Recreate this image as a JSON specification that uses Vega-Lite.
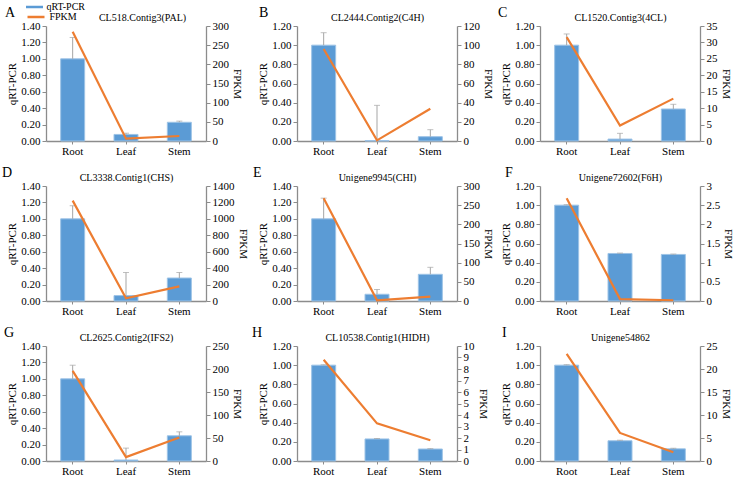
{
  "$schema": "https://vega.github.io/schema/vega-lite/v6.json",
  "padding": {"left": 2, "top": 2, "right": 2, "bottom": 2},
  "data": {"values": [
    {"panel": "A", "tissue": "Root", "qpcr": 1.0, "hi": 1.26, "fpkm": 285},
    {"panel": "A", "tissue": "Leaf", "qpcr": 0.08, "hi": 0.095, "fpkm": 6},
    {"panel": "A", "tissue": "Stem", "qpcr": 0.228, "hi": 0.242, "fpkm": 13},
    {"panel": "B", "tissue": "Root", "qpcr": 1.0, "hi": 1.13, "fpkm": 96},
    {"panel": "B", "tissue": "Leaf", "qpcr": 0.004, "hi": 0.372, "fpkm": 0.7},
    {"panel": "B", "tissue": "Stem", "qpcr": 0.045, "hi": 0.118, "fpkm": 33.7},
    {"panel": "C", "tissue": "Root", "qpcr": 1.0, "hi": 1.117, "fpkm": 31.6},
    {"panel": "C", "tissue": "Leaf", "qpcr": 0.02, "hi": 0.08, "fpkm": 4.7},
    {"panel": "C", "tissue": "Stem", "qpcr": 0.334, "hi": 0.383, "fpkm": 12.9},
    {"panel": "D", "tissue": "Root", "qpcr": 1.0, "hi": 1.16, "fpkm": 1222},
    {"panel": "D", "tissue": "Leaf", "qpcr": 0.066, "hi": 0.347, "fpkm": 33},
    {"panel": "D", "tissue": "Stem", "qpcr": 0.28, "hi": 0.347, "fpkm": 178},
    {"panel": "E", "tissue": "Root", "qpcr": 1.0, "hi": 1.252, "fpkm": 268},
    {"panel": "E", "tissue": "Leaf", "qpcr": 0.082, "hi": 0.14, "fpkm": 2},
    {"panel": "E", "tissue": "Stem", "qpcr": 0.325, "hi": 0.41, "fpkm": 11.5},
    {"panel": "F", "tissue": "Root", "qpcr": 1.0, "hi": 1.005, "fpkm": 2.68},
    {"panel": "F", "tissue": "Leaf", "qpcr": 0.496, "hi": 0.5, "fpkm": 0.05},
    {"panel": "F", "tissue": "Stem", "qpcr": 0.486, "hi": 0.49, "fpkm": 0.02},
    {"panel": "G", "tissue": "Root", "qpcr": 1.0, "hi": 1.166, "fpkm": 196},
    {"panel": "G", "tissue": "Leaf", "qpcr": 0.012, "hi": 0.157, "fpkm": 8.6},
    {"panel": "G", "tissue": "Stem", "qpcr": 0.307, "hi": 0.355, "fpkm": 51},
    {"panel": "H", "tissue": "Root", "qpcr": 1.0, "hi": 1.004, "fpkm": 8.8},
    {"panel": "H", "tissue": "Leaf", "qpcr": 0.23, "hi": 0.235, "fpkm": 3.27},
    {"panel": "H", "tissue": "Stem", "qpcr": 0.125, "hi": 0.129, "fpkm": 1.81},
    {"panel": "I", "tissue": "Root", "qpcr": 1.0, "hi": 1.005, "fpkm": 23.3},
    {"panel": "I", "tissue": "Leaf", "qpcr": 0.211, "hi": 0.217, "fpkm": 6.1},
    {"panel": "I", "tissue": "Stem", "qpcr": 0.127, "hi": 0.133, "fpkm": 1.9}
  ]},
  "columns": 3,
  "spacing": {"row": 10, "column": 4},
  "concat": [
    {
      "title": {"text": "A", "dx": -41},
      "transform": [{"filter": "datum.panel == 'A'"}],
      "width": 160, "height": 115,
      "layer": [
        {
          "encoding": {"x": {"field": "tissue", "type": "nominal", "sort": ["Root", "Leaf", "Stem"], "scale": {"paddingInner": 0.55, "paddingOuter": 0.275}, "axis": {"title": null}}},
          "layer": [
            {"mark": {"type": "bar", "stroke": "#9DC3E6", "strokeWidth": 1},
             "encoding": {
               "y": {"field": "qpcr", "type": "quantitative", "title": "qRT-PCR", "scale": {"domain": [0, 1.4]}, "axis": {"values": [0, 0.2, 0.4, 0.6, 0.8, 1, 1.2, 1.4], "format": ".2f"}},
               "fill": {"datum": "qRT-PCR", "type": "nominal", "scale": {"range": ["#5B9BD5"]}, "legend": {"orient": "none", "legendX": -16.5, "legendY": -24, "title": null, "symbolType": "M-1.7,-0.25H1.7V0.25H-1.7Z", "symbolSize": 100, "symbolStrokeWidth": 0, "labelFontSize": 10, "labelFont": "Liberation Serif", "padding": 0, "labelOffset": 7}}
             }},
            {"mark": {"type": "rule", "color": "#A5A5A5"}, "encoding": {"y": {"field": "qpcr", "type": "quantitative", "axis": null}, "y2": {"field": "hi"}}},
            {"mark": {"type": "tick", "color": "#A5A5A5", "thickness": 1, "size": 6}, "encoding": {"y": {"field": "hi", "type": "quantitative", "axis": null}}}
          ],
          "resolve": {"axis": {"y": "independent"}}
        },
        {
          "mark": {"type": "line", "strokeWidth": 2.2},
          "encoding": {
            "x": {"field": "tissue", "type": "nominal", "sort": ["Root", "Leaf", "Stem"], "axis": {"orient": "top", "title": "CL518.Contig3(PAL)", "labels": false, "ticks": false, "domain": false, "titleX": 96}},
            "y": {"field": "fpkm", "type": "quantitative", "title": "FPKM", "scale": {"domain": [0, 300]}, "axis": {"orient": "right", "values": [0, 50, 100, 150, 200, 250, 300]}},
            "stroke": {"datum": "FPKM", "type": "nominal", "scale": {"range": ["#ED7D31"]}, "legend": {"orient": "none", "legendX": -16.5, "legendY": -15.5, "title": null, "symbolType": "M-1.7,0H1.7", "symbolSize": 100, "symbolStrokeWidth": 2.5, "labelFontSize": 10, "labelFont": "Liberation Serif", "padding": 0, "labelOffset": 7}}
          }
        }
      ],
      "resolve": {"scale": {"y": "independent"}, "axis": {"x": "independent"}}
    },
    {
      "title": {"text": "B", "dx": -38},
      "transform": [{"filter": "datum.panel == 'B'"}],
      "width": 160, "height": 115,
      "layer": [
        {
          "encoding": {"x": {"field": "tissue", "type": "nominal", "sort": ["Root", "Leaf", "Stem"], "scale": {"paddingInner": 0.55, "paddingOuter": 0.275}, "axis": {"title": null}}},
          "layer": [
            {"mark": {"type": "bar", "fill": "#5B9BD5", "stroke": "#9DC3E6", "strokeWidth": 1},
             "encoding": {"y": {"field": "qpcr", "type": "quantitative", "title": "qRT-PCR", "scale": {"domain": [0, 1.2]}, "axis": {"values": [0, 0.2, 0.4, 0.6, 0.8, 1, 1.2], "format": ".2f"}}}},
            {"mark": {"type": "rule", "color": "#A5A5A5"}, "encoding": {"y": {"field": "qpcr", "type": "quantitative", "axis": null}, "y2": {"field": "hi"}}},
            {"mark": {"type": "tick", "color": "#A5A5A5", "thickness": 1, "size": 6}, "encoding": {"y": {"field": "hi", "type": "quantitative", "axis": null}}}
          ],
          "resolve": {"axis": {"y": "independent"}}
        },
        {
          "mark": {"type": "line", "color": "#ED7D31", "strokeWidth": 2.2},
          "encoding": {
            "x": {"field": "tissue", "type": "nominal", "sort": ["Root", "Leaf", "Stem"], "axis": {"orient": "top", "title": "CL2444.Contig2(C4H)", "labels": false, "ticks": false, "domain": false}},
            "y": {"field": "fpkm", "type": "quantitative", "title": "FPKM", "scale": {"domain": [0, 120]}, "axis": {"orient": "right", "values": [0, 20, 40, 60, 80, 100, 120]}}
          }
        }
      ],
      "resolve": {"scale": {"y": "independent"}, "axis": {"x": "independent"}}
    },
    {
      "title": {"text": "C", "dx": -42},
      "transform": [{"filter": "datum.panel == 'C'"}],
      "width": 160, "height": 115,
      "layer": [
        {
          "encoding": {"x": {"field": "tissue", "type": "nominal", "sort": ["Root", "Leaf", "Stem"], "scale": {"paddingInner": 0.55, "paddingOuter": 0.275}, "axis": {"title": null}}},
          "layer": [
            {"mark": {"type": "bar", "fill": "#5B9BD5", "stroke": "#9DC3E6", "strokeWidth": 1},
             "encoding": {"y": {"field": "qpcr", "type": "quantitative", "title": "qRT-PCR", "scale": {"domain": [0, 1.2]}, "axis": {"values": [0, 0.2, 0.4, 0.6, 0.8, 1, 1.2], "format": ".2f"}}}},
            {"mark": {"type": "rule", "color": "#A5A5A5"}, "encoding": {"y": {"field": "qpcr", "type": "quantitative", "axis": null}, "y2": {"field": "hi"}}},
            {"mark": {"type": "tick", "color": "#A5A5A5", "thickness": 1, "size": 6}, "encoding": {"y": {"field": "hi", "type": "quantitative", "axis": null}}}
          ],
          "resolve": {"axis": {"y": "independent"}}
        },
        {
          "mark": {"type": "line", "color": "#ED7D31", "strokeWidth": 2.2},
          "encoding": {
            "x": {"field": "tissue", "type": "nominal", "sort": ["Root", "Leaf", "Stem"], "axis": {"orient": "top", "title": "CL1520.Contig3(4CL)", "labels": false, "ticks": false, "domain": false}},
            "y": {"field": "fpkm", "type": "quantitative", "title": "FPKM", "scale": {"domain": [0, 35]}, "axis": {"orient": "right", "values": [0, 5, 10, 15, 20, 25, 30, 35]}}
          }
        }
      ],
      "resolve": {"scale": {"y": "independent"}, "axis": {"x": "independent"}}
    },
    {
      "title": {"text": "D", "dx": -44},
      "transform": [{"filter": "datum.panel == 'D'"}],
      "width": 160, "height": 115,
      "layer": [
        {
          "encoding": {"x": {"field": "tissue", "type": "nominal", "sort": ["Root", "Leaf", "Stem"], "scale": {"paddingInner": 0.55, "paddingOuter": 0.275}, "axis": {"title": null}}},
          "layer": [
            {"mark": {"type": "bar", "fill": "#5B9BD5", "stroke": "#9DC3E6", "strokeWidth": 1},
             "encoding": {"y": {"field": "qpcr", "type": "quantitative", "title": "qRT-PCR", "scale": {"domain": [0, 1.4]}, "axis": {"values": [0, 0.2, 0.4, 0.6, 0.8, 1, 1.2, 1.4], "format": ".2f"}}}},
            {"mark": {"type": "rule", "color": "#A5A5A5"}, "encoding": {"y": {"field": "qpcr", "type": "quantitative", "axis": null}, "y2": {"field": "hi"}}},
            {"mark": {"type": "tick", "color": "#A5A5A5", "thickness": 1, "size": 6}, "encoding": {"y": {"field": "hi", "type": "quantitative", "axis": null}}}
          ],
          "resolve": {"axis": {"y": "independent"}}
        },
        {
          "mark": {"type": "line", "color": "#ED7D31", "strokeWidth": 2.2},
          "encoding": {
            "x": {"field": "tissue", "type": "nominal", "sort": ["Root", "Leaf", "Stem"], "axis": {"orient": "top", "title": "CL3338.Contig1(CHS)", "labels": false, "ticks": false, "domain": false}},
            "y": {"field": "fpkm", "type": "quantitative", "title": "FPKM", "scale": {"domain": [0, 1400]}, "axis": {"orient": "right", "values": [0, 200, 400, 600, 800, 1000, 1200, 1400]}}
          }
        }
      ],
      "resolve": {"scale": {"y": "independent"}, "axis": {"x": "independent"}}
    },
    {
      "title": {"text": "E", "dx": -44},
      "transform": [{"filter": "datum.panel == 'E'"}],
      "width": 160, "height": 115,
      "layer": [
        {
          "encoding": {"x": {"field": "tissue", "type": "nominal", "sort": ["Root", "Leaf", "Stem"], "scale": {"paddingInner": 0.55, "paddingOuter": 0.275}, "axis": {"title": null}}},
          "layer": [
            {"mark": {"type": "bar", "fill": "#5B9BD5", "stroke": "#9DC3E6", "strokeWidth": 1},
             "encoding": {"y": {"field": "qpcr", "type": "quantitative", "title": "qRT-PCR", "scale": {"domain": [0, 1.4]}, "axis": {"values": [0, 0.2, 0.4, 0.6, 0.8, 1, 1.2, 1.4], "format": ".2f"}}}},
            {"mark": {"type": "rule", "color": "#A5A5A5"}, "encoding": {"y": {"field": "qpcr", "type": "quantitative", "axis": null}, "y2": {"field": "hi"}}},
            {"mark": {"type": "tick", "color": "#A5A5A5", "thickness": 1, "size": 6}, "encoding": {"y": {"field": "hi", "type": "quantitative", "axis": null}}}
          ],
          "resolve": {"axis": {"y": "independent"}}
        },
        {
          "mark": {"type": "line", "color": "#ED7D31", "strokeWidth": 2.2},
          "encoding": {
            "x": {"field": "tissue", "type": "nominal", "sort": ["Root", "Leaf", "Stem"], "axis": {"orient": "top", "title": "Unigene9945(CHI)", "labels": false, "ticks": false, "domain": false}},
            "y": {"field": "fpkm", "type": "quantitative", "title": "FPKM", "scale": {"domain": [0, 300]}, "axis": {"orient": "right", "values": [0, 50, 100, 150, 200, 250, 300]}}
          }
        }
      ],
      "resolve": {"scale": {"y": "independent"}, "axis": {"x": "independent"}}
    },
    {
      "title": {"text": "F", "dx": -35},
      "transform": [{"filter": "datum.panel == 'F'"}],
      "width": 160, "height": 115,
      "layer": [
        {
          "encoding": {"x": {"field": "tissue", "type": "nominal", "sort": ["Root", "Leaf", "Stem"], "scale": {"paddingInner": 0.55, "paddingOuter": 0.275}, "axis": {"title": null}}},
          "layer": [
            {"mark": {"type": "bar", "fill": "#5B9BD5", "stroke": "#9DC3E6", "strokeWidth": 1},
             "encoding": {"y": {"field": "qpcr", "type": "quantitative", "title": "qRT-PCR", "scale": {"domain": [0, 1.2]}, "axis": {"values": [0, 0.2, 0.4, 0.6, 0.8, 1, 1.2], "format": ".2f"}}}},
            {"mark": {"type": "rule", "color": "#A5A5A5"}, "encoding": {"y": {"field": "qpcr", "type": "quantitative", "axis": null}, "y2": {"field": "hi"}}},
            {"mark": {"type": "tick", "color": "#A5A5A5", "thickness": 1, "size": 6}, "encoding": {"y": {"field": "hi", "type": "quantitative", "axis": null}}}
          ],
          "resolve": {"axis": {"y": "independent"}}
        },
        {
          "mark": {"type": "line", "color": "#ED7D31", "strokeWidth": 2.2},
          "encoding": {
            "x": {"field": "tissue", "type": "nominal", "sort": ["Root", "Leaf", "Stem"], "axis": {"orient": "top", "title": "Unigene72602(F6H)", "labels": false, "ticks": false, "domain": false}},
            "y": {"field": "fpkm", "type": "quantitative", "title": "FPKM", "scale": {"domain": [0, 3]}, "axis": {"orient": "right", "values": [0, 0.5, 1, 1.5, 2, 2.5, 3]}}
          }
        }
      ],
      "resolve": {"scale": {"y": "independent"}, "axis": {"x": "independent"}}
    },
    {
      "title": {"text": "G", "dx": -42},
      "transform": [{"filter": "datum.panel == 'G'"}],
      "width": 160, "height": 115,
      "layer": [
        {
          "encoding": {"x": {"field": "tissue", "type": "nominal", "sort": ["Root", "Leaf", "Stem"], "scale": {"paddingInner": 0.55, "paddingOuter": 0.275}, "axis": {"title": null}}},
          "layer": [
            {"mark": {"type": "bar", "fill": "#5B9BD5", "stroke": "#9DC3E6", "strokeWidth": 1},
             "encoding": {"y": {"field": "qpcr", "type": "quantitative", "title": "qRT-PCR", "scale": {"domain": [0, 1.4]}, "axis": {"values": [0, 0.2, 0.4, 0.6, 0.8, 1, 1.2, 1.4], "format": ".2f"}}}},
            {"mark": {"type": "rule", "color": "#A5A5A5"}, "encoding": {"y": {"field": "qpcr", "type": "quantitative", "axis": null}, "y2": {"field": "hi"}}},
            {"mark": {"type": "tick", "color": "#A5A5A5", "thickness": 1, "size": 6}, "encoding": {"y": {"field": "hi", "type": "quantitative", "axis": null}}}
          ],
          "resolve": {"axis": {"y": "independent"}}
        },
        {
          "mark": {"type": "line", "color": "#ED7D31", "strokeWidth": 2.2},
          "encoding": {
            "x": {"field": "tissue", "type": "nominal", "sort": ["Root", "Leaf", "Stem"], "axis": {"orient": "top", "title": "CL2625.Contig2(IFS2)", "labels": false, "ticks": false, "domain": false}},
            "y": {"field": "fpkm", "type": "quantitative", "title": "FPKM", "scale": {"domain": [0, 250]}, "axis": {"orient": "right", "values": [0, 50, 100, 150, 200, 250]}}
          }
        }
      ],
      "resolve": {"scale": {"y": "independent"}, "axis": {"x": "independent"}}
    },
    {
      "title": {"text": "H", "dx": -45},
      "transform": [{"filter": "datum.panel == 'H'"}],
      "width": 160, "height": 115,
      "layer": [
        {
          "encoding": {"x": {"field": "tissue", "type": "nominal", "sort": ["Root", "Leaf", "Stem"], "scale": {"paddingInner": 0.55, "paddingOuter": 0.275}, "axis": {"title": null}}},
          "layer": [
            {"mark": {"type": "bar", "fill": "#5B9BD5", "stroke": "#9DC3E6", "strokeWidth": 1},
             "encoding": {"y": {"field": "qpcr", "type": "quantitative", "title": "qRT-PCR", "scale": {"domain": [0, 1.2]}, "axis": {"values": [0, 0.2, 0.4, 0.6, 0.8, 1, 1.2], "format": ".2f"}}}},
            {"mark": {"type": "rule", "color": "#A5A5A5"}, "encoding": {"y": {"field": "qpcr", "type": "quantitative", "axis": null}, "y2": {"field": "hi"}}},
            {"mark": {"type": "tick", "color": "#A5A5A5", "thickness": 1, "size": 6}, "encoding": {"y": {"field": "hi", "type": "quantitative", "axis": null}}}
          ],
          "resolve": {"axis": {"y": "independent"}}
        },
        {
          "mark": {"type": "line", "color": "#ED7D31", "strokeWidth": 2.2},
          "encoding": {
            "x": {"field": "tissue", "type": "nominal", "sort": ["Root", "Leaf", "Stem"], "axis": {"orient": "top", "title": "CL10538.Contig1(HIDH)", "labels": false, "ticks": false, "domain": false}},
            "y": {"field": "fpkm", "type": "quantitative", "title": "FPKM", "scale": {"domain": [0, 10]}, "axis": {"orient": "right", "values": [0, 1, 2, 3, 4, 5, 6, 7, 8, 9, 10]}}
          }
        }
      ],
      "resolve": {"scale": {"y": "independent"}, "axis": {"x": "independent"}}
    },
    {
      "title": {"text": "I", "dx": -38},
      "transform": [{"filter": "datum.panel == 'I'"}],
      "width": 160, "height": 115,
      "layer": [
        {
          "encoding": {"x": {"field": "tissue", "type": "nominal", "sort": ["Root", "Leaf", "Stem"], "scale": {"paddingInner": 0.55, "paddingOuter": 0.275}, "axis": {"title": null}}},
          "layer": [
            {"mark": {"type": "bar", "fill": "#5B9BD5", "stroke": "#9DC3E6", "strokeWidth": 1},
             "encoding": {"y": {"field": "qpcr", "type": "quantitative", "title": "qRT-PCR", "scale": {"domain": [0, 1.2]}, "axis": {"values": [0, 0.2, 0.4, 0.6, 0.8, 1, 1.2], "format": ".2f"}}}},
            {"mark": {"type": "rule", "color": "#A5A5A5"}, "encoding": {"y": {"field": "qpcr", "type": "quantitative", "axis": null}, "y2": {"field": "hi"}}},
            {"mark": {"type": "tick", "color": "#A5A5A5", "thickness": 1, "size": 6}, "encoding": {"y": {"field": "hi", "type": "quantitative", "axis": null}}}
          ],
          "resolve": {"axis": {"y": "independent"}}
        },
        {
          "mark": {"type": "line", "color": "#ED7D31", "strokeWidth": 2.2},
          "encoding": {
            "x": {"field": "tissue", "type": "nominal", "sort": ["Root", "Leaf", "Stem"], "axis": {"orient": "top", "title": "Unigene54862", "labels": false, "ticks": false, "domain": false}},
            "y": {"field": "fpkm", "type": "quantitative", "title": "FPKM", "scale": {"domain": [0, 25]}, "axis": {"orient": "right", "values": [0, 5, 10, 15, 20, 25]}}
          }
        }
      ],
      "resolve": {"scale": {"y": "independent"}, "axis": {"x": "independent"}}
    }
  ],
  "config": {
    "font": "Liberation Serif",
    "view": {"stroke": null},
    "axis": {"labelFont": "Liberation Serif", "titleFont": "Liberation Serif", "labelFontSize": 11, "titleFontSize": 11, "titleFontWeight": "normal", "labelColor": "#000000", "titleColor": "#000000", "domainColor": "#8C8C8C", "tickColor": "#8C8C8C", "domainWidth": 1.3, "tickSize": 4, "grid": false, "titlePadding": 3},
    "axisX": {"labelAngle": 0},
    "axisRight": {"format": "~f"},
    "axisTop": {"titleFontSize": 10, "titlePadding": 4},
    "axisBottom": {"tickSize": 3, "labelPadding": 1},
    "title": {"font": "Liberation Serif", "fontSize": 14, "fontWeight": "normal", "anchor": "start", "frame": "group", "offset": -8, "color": "#000000"}
  }
}
